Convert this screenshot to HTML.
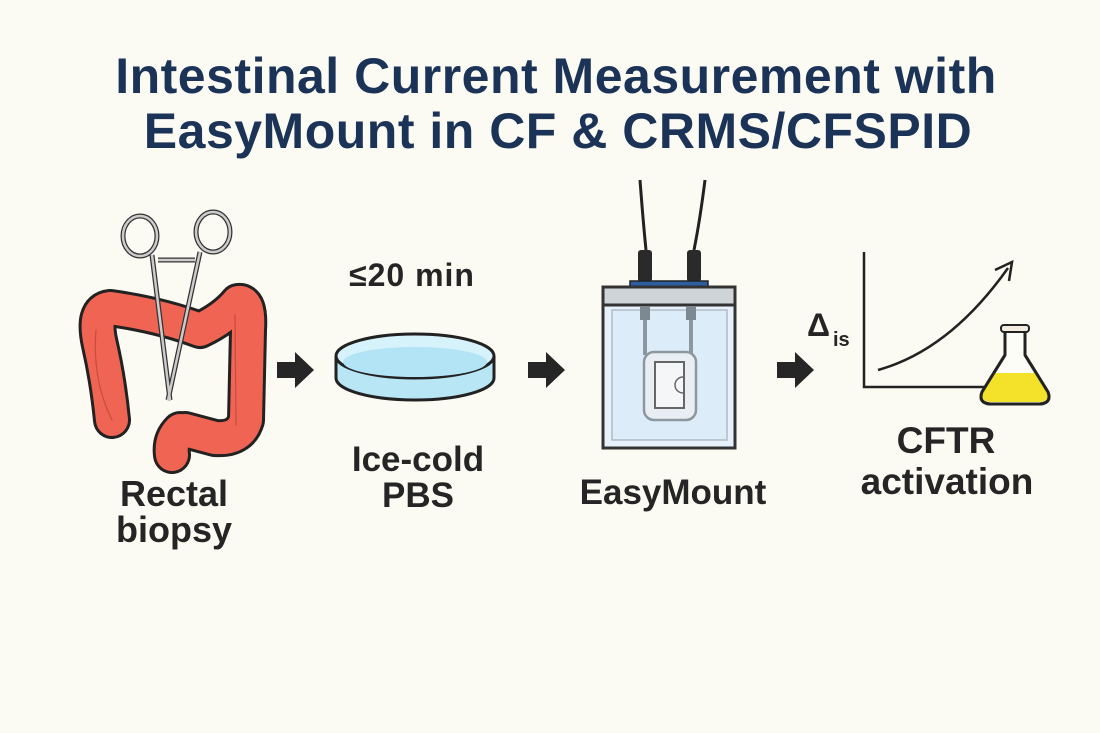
<!DOCTYPE html>
<html><head><meta charset="utf-8"><style>
html,body{margin:0;padding:0;background:#fcfbf3;}
svg{display:block}
text{font-family:"Liberation Sans",sans-serif;font-weight:bold}
</style></head><body>
<svg width="1100" height="733" viewBox="0 0 1100 733" xmlns="http://www.w3.org/2000/svg">
<rect width="1100" height="733" fill="#fcfbf3"/>
<text x="556" y="93" font-size="50" fill="#1c3358" text-anchor="middle" letter-spacing="0.5">Intestinal Current Measurement with</text>
<text x="558" y="148" font-size="50" fill="#1c3358" text-anchor="middle" letter-spacing="0.5">EasyMount in CF &amp; CRMS/CFSPID</text>

<!-- colon -->
<g fill="none" stroke-linecap="round" stroke-linejoin="round">
<path d="M112,420 Q108,380 100,345 Q92,310 110,308 Q160,315 200,330 Q225,318 238,302 Q250,300 248,330 L246,420 Q240,440 215,438 L185,430 M180,430 Q170,440 172,455" stroke="#222" stroke-width="38"/>
<path d="M112,420 Q108,380 100,345 Q92,310 110,308 Q160,315 200,330 Q225,318 238,302 Q250,300 248,330 L246,420 Q240,440 215,438 L185,430 M180,430 Q170,440 172,455" stroke="#ef6453" stroke-width="32"/>
<path d="M96,330 Q92,380 112,420" stroke="#c84c3e" stroke-width="1.2"/>
<path d="M235,315 L236,425" stroke="#c84c3e" stroke-width="1.2"/>
</g>
<!-- forceps -->
<g fill="none" stroke="#333" stroke-width="5">
<ellipse cx="140" cy="236" rx="17" ry="20"/>
<ellipse cx="213" cy="232" rx="17" ry="20"/>
<path d="M152,255 L170,400 M200,252 L168,400 M158,260 L195,260"/>
</g>
<g fill="none" stroke="#ccc" stroke-width="2.5">
<ellipse cx="140" cy="236" rx="17" ry="20"/>
<ellipse cx="213" cy="232" rx="17" ry="20"/>
<path d="M152,255 L170,400 M200,252 L168,400 M158,260 L195,260"/>
</g>
<text x="174" y="506" font-size="36" fill="#252525" text-anchor="middle">Rectal</text>
<text x="174" y="542" font-size="36" fill="#252525" text-anchor="middle">biopsy</text>

<!-- arrows -->
<g fill="#262626">
<path d="M277,362 L295,362 L295,352 L314,370 L295,388 L295,378 L277,378 Z"/>
<path d="M528,362 L546,362 L546,352 L565,370 L546,388 L546,378 L528,378 Z"/>
<path d="M777,362 L795,362 L795,352 L814,370 L795,388 L795,378 L777,378 Z"/>
</g>

<!-- dish -->
<text x="412" y="286" font-size="32" fill="#252525" text-anchor="middle" letter-spacing="1">≤20 min</text>
<path d="M336,356 L336,378 A79,22 0 0 0 494,378 L494,356" fill="#b9e6f4" stroke="#222" stroke-width="3"/>
<ellipse cx="415" cy="356" rx="79" ry="22" fill="#d6f2fb" stroke="#222" stroke-width="3"/>
<ellipse cx="415" cy="362" rx="72" ry="15" fill="#b3e4f6"/>
<text x="418" y="471" font-size="35" fill="#252525" text-anchor="middle">Ice-cold</text>
<text x="418" y="507" font-size="35" fill="#252525" text-anchor="middle">PBS</text>

<!-- EasyMount -->
<path d="M640,180 Q643,220 646,250 M705,180 Q700,220 694,250" fill="none" stroke="#222" stroke-width="3"/>
<rect x="638" y="250" width="14" height="32" rx="3" fill="#2a2a2a"/>
<rect x="687" y="250" width="14" height="32" rx="3" fill="#2a2a2a"/>
<rect x="630" y="281" width="78" height="7" fill="#2d5fa0" stroke="#222" stroke-width="1.5"/>
<rect x="603" y="287" width="132" height="161" fill="#e6f1fb" stroke="#333" stroke-width="3"/>
<rect x="603" y="287" width="132" height="18" fill="#cfd4d8" stroke="#333" stroke-width="3"/>
<rect x="612" y="310" width="115" height="130" fill="#dcecf8" stroke="#b0bcc6" stroke-width="1.5"/>
<rect x="640" y="306" width="10" height="14" fill="#7d8890"/>
<rect x="686" y="306" width="10" height="14" fill="#7d8890"/>
<path d="M645,320 L645,355 M691,320 L691,355" stroke="#8c979f" stroke-width="4"/>
<rect x="644" y="352" width="52" height="68" rx="10" fill="#e8eef3" stroke="#8c979f" stroke-width="2.5"/>
<rect x="655" y="362" width="29" height="46" fill="#f4f6f8" stroke="#666" stroke-width="2"/>
<path d="M683,377 A8,8 0 0 0 683,393" fill="none" stroke="#666" stroke-width="1.5"/>
<text x="673" y="504" font-size="35" fill="#252525" text-anchor="middle">EasyMount</text>

<!-- graph -->
<path d="M864,252 L864,387 L990,387" fill="none" stroke="#222" stroke-width="2.5"/>
<path d="M878,370 Q950,350 1008,268" fill="none" stroke="#222" stroke-width="2.5"/>
<path d="M995,270 L1012,262 L1009,281" fill="none" stroke="#222" stroke-width="2.5"/>
<text x="807" y="336" font-size="32" fill="#252525" font-weight="normal">Δ</text>
<text x="833" y="346" font-size="20" fill="#252525">is</text>
<!-- flask -->
<path d="M1005,330 L1005,355 L982,392 Q978,403 990,404 L1040,404 Q1052,403 1048,392 L1025,355 L1025,330 Z" fill="#fdfdf8" stroke="#222" stroke-width="3" stroke-linejoin="round"/>
<path d="M994,373 L1036,373 L1047,392 Q1050,401 1040,402 L990,402 Q980,401 983,392 Z" fill="#f4e12a"/>
<path d="M1005,355 L982,392 Q978,403 990,404 L1040,404 Q1052,403 1048,392 L1025,355" fill="none" stroke="#222" stroke-width="3"/>
<rect x="1001" y="325" width="28" height="7" rx="3" fill="#f2ece0" stroke="#222" stroke-width="2"/>
<text x="946" y="453" font-size="37" fill="#252525" text-anchor="middle">CFTR</text>
<text x="947" y="494" font-size="37" fill="#252525" text-anchor="middle">activation</text>
</svg>
</body></html>
